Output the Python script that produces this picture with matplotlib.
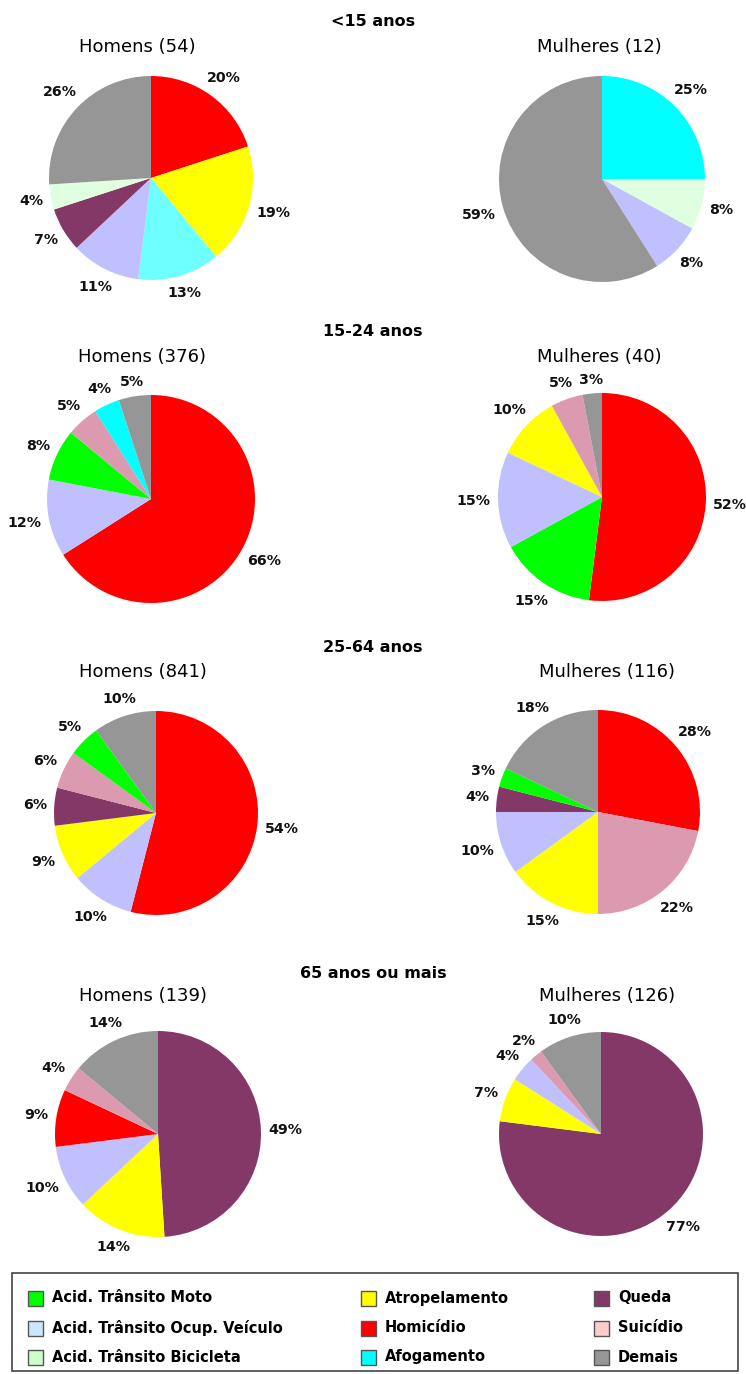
import matplotlib
matplotlib.use("Agg")
import numpy as np
import matplotlib.pyplot as plt
from matplotlib.patches import Rectangle

plt.rcParams['font.family'] = ['DejaVu Sans']

W, H = 746, 1374

# Categories (legend order) and colours
categories = ['Acid. Trânsito Moto', 'Acid. Trânsito Ocup. Veículo', 'Acid. Trânsito Bicicleta',
              'Atropelamento', 'Homicídio', 'Afogamento',
              'Queda', 'Suicídio', 'Demais']
legend_colors = ['#00ff00', '#cce6ff', '#ccffcc',
                 '#ffff00', '#ff0000', '#00ffff',
                 '#843868', '#ffcccc', '#969696']
pie_colors = {'Acid. Trânsito Moto': '#00ff00',
              'Acid. Trânsito Ocup. Veículo': '#c0c0ff',
              'Acid. Trânsito Bicicleta': '#e0ffe0',
              'Atropelamento': '#ffff00',
              'Homicídio': '#ff0000',
              'Afogamento': '#00ffff',
              'Queda': '#843868',
              'Suicídio': '#dc9ab1',
              'Demais': '#969696'}

age_groups = ['<15 anos', '15-24 anos', '25-64 anos', '65 anos ou mais']

# Slices per group, clockwise from 12 o'clock (percent)
m_lt15_cats = ['Homicídio', 'Atropelamento', 'Afogamento', 'Acid. Trânsito Ocup. Veículo',
               'Queda', 'Acid. Trânsito Bicicleta', 'Demais']
m_lt15_vals = [20, 19, 13, 11, 7, 4, 26]
f_lt15_cats = ['Afogamento', 'Acid. Trânsito Bicicleta', 'Acid. Trânsito Ocup. Veículo', 'Demais']
f_lt15_vals = [25, 8, 8, 59]

m_15_24_cats = ['Homicídio', 'Acid. Trânsito Ocup. Veículo', 'Acid. Trânsito Moto',
                'Suicídio', 'Afogamento', 'Demais']
m_15_24_vals = [66, 12, 8, 5, 4, 5]
f_15_24_cats = ['Homicídio', 'Acid. Trânsito Moto', 'Acid. Trânsito Ocup. Veículo',
                'Atropelamento', 'Suicídio', 'Demais']
f_15_24_vals = [52, 15, 15, 10, 5, 3]

m_25_64_cats = ['Homicídio', 'Acid. Trânsito Ocup. Veículo', 'Atropelamento', 'Queda',
                'Suicídio', 'Acid. Trânsito Moto', 'Demais']
m_25_64_vals = [54, 10, 9, 6, 6, 5, 10]
f_25_64_cats = ['Homicídio', 'Suicídio', 'Atropelamento', 'Acid. Trânsito Ocup. Veículo',
                'Queda', 'Acid. Trânsito Moto', 'Demais']
f_25_64_vals = [28, 22, 15, 10, 4, 3, 18]

m_65_cats = ['Queda', 'Atropelamento', 'Acid. Trânsito Ocup. Veículo', 'Homicídio',
             'Suicídio', 'Demais']
m_65_vals = [49, 14, 10, 9, 4, 14]
f_65_cats = ['Queda', 'Atropelamento', 'Acid. Trânsito Ocup. Veículo', 'Suicídio', 'Demais']
f_65_vals = [77, 7, 4, 2, 10]

male_titles = ['Homens (54)', 'Homens (376)', 'Homens (841)', 'Homens (139)']
female_titles = ['Mulheres (12)', 'Mulheres (40)', 'Mulheres (116)', 'Mulheres (126)']

male_data = [(m_lt15_cats, m_lt15_vals), (m_15_24_cats, m_15_24_vals),
             (m_25_64_cats, m_25_64_vals), (m_65_cats, m_65_vals)]
female_data = [(f_lt15_cats, f_lt15_vals), (f_15_24_cats, f_15_24_vals),
               (f_25_64_cats, f_25_64_vals), (f_65_cats, f_65_vals)]

# Layout in pixels: pie centres/radii, title rows
male_pies = [(151, 178, 102), (151, 499, 104), (156, 813, 102), (158, 1134, 103)]
female_pies = [(602, 179, 103), (602, 497, 104), (598, 812, 102), (601, 1134, 102)]
group_title_y = [22, 332, 648, 973]
sub_title_y = [47, 357, 672, 996]
male_title_x = [137, 142, 143, 143]
female_title_x = [599, 599, 607, 607]

fig = plt.figure(figsize=(W / 100, H / 100), dpi=100)
fig.patch.set_facecolor('white')
renderer = fig.canvas.get_renderer()


def px(x, y):
    return x / W, 1 - y / H


def draw_pie(cx, cy, r, cats, vals, overrides=None):
    k = 1.6
    ax = fig.add_axes([(cx - r * k) / W, (H - cy - r * k) / H, 2 * r * k / W, 2 * r * k / H])
    cols = [pie_colors[c] for c in cats]
    if overrides:
        cols = [overrides.get(c, col) for c, col in zip(cats, cols)]
    wedges, _, pcts = ax.pie(vals, colors=cols, startangle=90, counterclock=False, radius=1,
                             autopct=lambda p: f'{p:.0f}%', pctdistance=1.2,
                             wedgeprops=dict(linewidth=0),
                             textprops=dict(fontsize=10.2, fontweight='bold', color='#111111'))
    ax.set_xlim(-k, k)
    ax.set_ylim(-k, k)
    ax.set_aspect('equal')
    ax.axis('off')
    # keep each label box just outside the rim, along the slice bisector
    for w, t in zip(wedges, pcts):
        ang = np.deg2rad((w.theta1 + w.theta2) / 2)
        bb = t.get_window_extent(renderer)
        hw = bb.width / 2 / r
        hh = bb.height * 0.4 / r
        d = 1.07 + abs(np.cos(ang)) * hw + abs(np.sin(ang)) * hh
        t.set_position((d * np.cos(ang), d * np.sin(ang)))


for i in range(4):
    fig.text(*px(373, group_title_y[i]), age_groups[i], ha='center', va='center',
             fontsize=11.5, fontweight='bold', color='black')
    fig.text(*px(male_title_x[i], sub_title_y[i]), male_titles[i], ha='center', va='center',
             fontsize=13, color='black')
    fig.text(*px(female_title_x[i], sub_title_y[i]), female_titles[i], ha='center', va='center',
             fontsize=13, color='black')
    cx, cy, r = male_pies[i]
    ov = {'Afogamento': '#6effff'} if i == 0 else None
    draw_pie(cx, cy, r, *male_data[i], overrides=ov)
    cx, cy, r = female_pies[i]
    draw_pie(cx, cy, r, *female_data[i])

# Legend panel
lax = fig.add_axes([0, 0, 1, 1], zorder=-1)
lax.set_xlim(0, W)
lax.set_ylim(H, 0)
lax.axis('off')
lax.add_patch(Rectangle((12, 1273), 726, 98, facecolor='white', edgecolor='#444444', linewidth=1.2))
col_x = [28, 361, 594]
row_y = [1298, 1328, 1357]
for j, (name, col) in enumerate(zip(categories, legend_colors)):
    x = col_x[j // 3]
    y = row_y[j % 3]
    lax.add_patch(Rectangle((x, y - 7.5), 15, 15, facecolor=col, edgecolor='#555555', linewidth=1))
    lax.text(x + 24, y, name, ha='left', va='center', fontsize=10.5, fontweight='bold', color='black')

fig.savefig('out.png', dpi=100)
